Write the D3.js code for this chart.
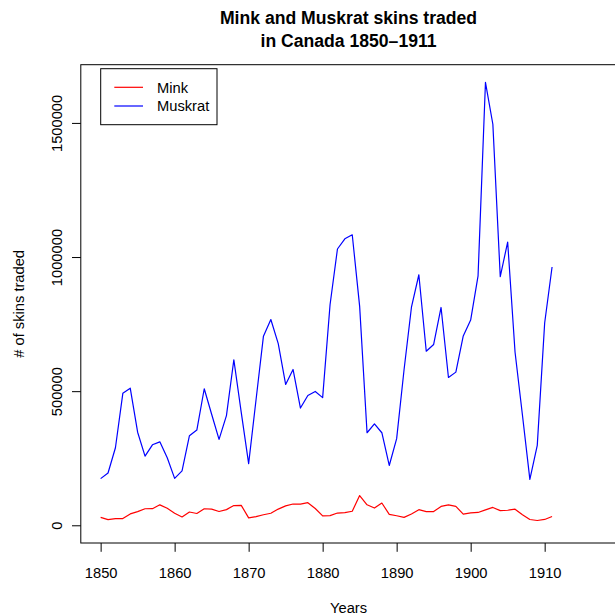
<!DOCTYPE html>
<html>
<head>
<meta charset="utf-8">
<script src="https://cdn.jsdelivr.net/npm/d3@7"></script>
<style>
  html, body { margin: 0; padding: 0; background: #fff; }
  svg { display: block; }
  text { font-family: "Liberation Sans", Arial, Helvetica, sans-serif; fill: #000; }
</style>
</head>
<body>
<script>
// ---- data ----
const years = d3.range(1850, 1912);
const mink = [29619, 21151, 24859, 25152, 42375, 50839, 61581, 61951, 76231, 63264,
  44730, 31094, 49452, 43961, 61727, 60334, 51404, 58451, 73575, 74343,
  27708, 31985, 39266, 44740, 60429, 72273, 79214, 79060, 84244, 62590,
  35072, 36160, 45600, 47508, 52290, 110824, 76503, 64303, 83023, 40748,
  35596, 29479, 42264, 58171, 50815, 51285, 70229, 76365, 70407, 41839,
  45978, 47813, 57620, 66549, 54673, 55996, 60053, 39169, 21534, 17857,
  21788, 33008];
const muskrat = [174000, 195000, 289000, 492000, 511000, 347000, 258000, 300000, 311000, 252000,
  175000, 203000, 334000, 355000, 509000, 414000, 320000, 409000, 617000, 421000,
  230000, 468000, 705000, 767000, 677000, 525000, 581000, 437000, 484000, 499000,
  476000, 822000, 1030000, 1068000, 1083000, 816000, 345000, 378000, 345000, 223000,
  323000, 580000, 813000, 934000, 649000, 674000, 812000, 551000, 571000, 706000,
  765000, 930000, 1651000, 1495000, 927000, 1056000, 645000, 410000, 171000, 298000,
  754000, 963000];
const xTicks = [1850, 1860, 1870, 1880, 1890, 1900, 1910];
const yTicks = [0, 500000, 1000000, 1500000];
const seriesNames = ["Mink", "Muskrat"];
const seriesColors = ["#ff0000", "#0000ff"];
const titleLines = ["Mink and Muskrat skins traded", "in Canada 1850\u20131911"];

// ---- layout ----
const W = 615, H = 616;
const box = { left: 80.8, right: 616.3, top: 64.7, bottom: 543 };
const fs = 14.7;

const xlim = [1850, 1917];
const xr = xlim[1] - xlim[0];
const x = d3.scaleLinear()
  .domain([xlim[0] - 0.04 * xr, xlim[1] + 0.04 * xr])
  .range([box.left, box.right]);

const ymax = d3.max(muskrat);
const y = d3.scaleLinear()
  .domain([-0.04 * ymax, 1.04 * ymax])
  .range([box.bottom, box.top]);

const svg = d3.select("body").append("svg")
  .attr("width", W).attr("height", H);

// title
svg.append("g").selectAll("text").data(titleLines).join("text")
  .attr("x", (box.left + box.right) / 2)
  .attr("y", (d, i) => 24 + i * 22.5)
  .attr("text-anchor", "middle")
  .attr("font-weight", "bold")
  .attr("font-size", 17.6)
  .text(d => d);

// plot box
svg.append("rect")
  .attr("x", box.left).attr("y", box.top)
  .attr("width", box.right - box.left).attr("height", box.bottom - box.top)
  .attr("fill", "none").attr("stroke", "#000").attr("stroke-width", 1);

// x axis
const xAxis = d3.axisBottom(x).tickValues(xTicks).tickSize(8.8).tickPadding(6).tickFormat(d3.format("d"));
const gx = svg.append("g").attr("transform", `translate(0,${box.bottom})`).call(xAxis);
gx.select(".domain").remove();
gx.selectAll("text").attr("font-size", fs).attr("font-family", null).attr("dy", null).attr("y", 34.7);
gx.selectAll("line").attr("stroke", "#000");

// y axis
const yAxis = d3.axisLeft(y).tickValues(yTicks).tickSize(8.8).tickFormat(d3.format("d"));
const gy = svg.append("g").attr("transform", `translate(${box.left},0)`).call(yAxis);
gy.select(".domain").remove();
gy.selectAll("line").attr("stroke", "#000");
gy.selectAll("text")
  .attr("font-size", fs).attr("font-family", null)
  .attr("x", null).attr("dy", null)
  .attr("text-anchor", "middle")
  .attr("transform", "translate(-19,0) rotate(-90)");

// axis labels
svg.append("text")
  .attr("x", (box.left + box.right) / 2).attr("y", 613)
  .attr("text-anchor", "middle").attr("font-size", fs)
  .text("Years");
svg.append("text")
  .attr("transform", `translate(24,${(box.top + box.bottom) / 2}) rotate(-90)`)
  .attr("text-anchor", "middle").attr("font-size", fs)
  .text("# of skins traded");

// lines
const line = d3.line().x((d, i) => x(years[i])).y(d => y(d));
[mink, muskrat].forEach((s, k) => {
  svg.append("path").datum(s)
    .attr("d", line)
    .attr("fill", "none")
    .attr("stroke", seriesColors[k])
    .attr("stroke-width", 1.2)
    .attr("stroke-linejoin", "round");
});

// legend
const lg = svg.append("g");
lg.append("rect")
  .attr("x", 100.7).attr("y", 68.7).attr("width", 116.3).attr("height", 56)
  .attr("fill", "#fff").attr("stroke", "#000").attr("stroke-width", 1);
seriesNames.forEach((n, i) => {
  const yy = 87.3 + i * 18.7;
  lg.append("line").attr("x1", 114.3).attr("x2", 143).attr("y1", yy).attr("y2", yy)
    .attr("stroke", seriesColors[i]).attr("stroke-width", 1.2);
  lg.append("text").attr("x", 157).attr("y", yy + 5.2).attr("font-size", fs).text(n);
});
</script>
</body>
</html>
